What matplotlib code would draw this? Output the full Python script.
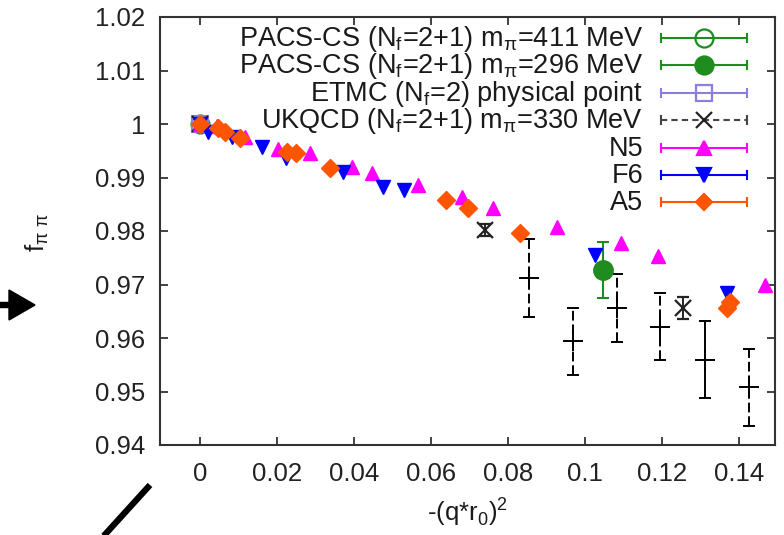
import matplotlib
matplotlib.use("Agg")
import matplotlib.pyplot as plt
from matplotlib.lines import Line2D
from matplotlib.patches import FancyArrow
from matplotlib.transforms import IdentityTransform

plt.rcParams['font.family'] = ['Liberation Sans', 'DejaVu Sans']
plt.rcParams['mathtext.fontset'] = 'custom'
plt.rcParams['mathtext.rm'] = 'Liberation Sans'

# ---- data -------------------------------------------------------------
pacs411_x = [0.0]
pacs411_y = [1.0]

pacs296_x = [0.1047]
pacs296_y = [0.9727]
pacs296_err = [0.0052]

etmc_x = [0.0]
etmc_y = [1.0]

ukqcd_x = [0.0, 0.0740, 0.1255]
ukqcd_y = [1.0, 0.9802, 0.9656]
ukqcd_err = [0.0, 0.0012, 0.0020]

cross_solid_x = [0.1312]
cross_solid_y = [0.9559]
cross_solid_err = [0.0072]

cross_dashed_x = [0.0855, 0.0969, 0.1083, 0.1195, 0.1426]
cross_dashed_y = [0.9712, 0.9594, 0.9656, 0.9621, 0.9508]
cross_dashed_err = [0.0073, 0.0063, 0.0063, 0.0063, 0.0072]

n5_x = [0.0, 0.0044, 0.0117, 0.0203, 0.0286, 0.0395, 0.0447, 0.0566,
        0.0680, 0.0762, 0.0927, 0.1093, 0.1190, 0.1468]
n5_y = [1.0, 0.9996, 0.9976, 0.9953, 0.9946, 0.9920, 0.9908, 0.9886,
        0.9864, 0.9843, 0.9808, 0.9778, 0.9753, 0.9699]

f6_x = [0.0, 0.0021, 0.0083, 0.0161, 0.0223, 0.0372, 0.0476, 0.0530,
        0.1026, 0.1369]
f6_y = [1.0, 0.9985, 0.9976, 0.9957, 0.9937, 0.9911, 0.9883, 0.9877,
        0.9755, 0.9684]

a5_x = [0.0, 0.0047, 0.0065, 0.0104, 0.0225, 0.0250, 0.0338, 0.0640,
        0.0697, 0.0831, 0.1369, 0.1377]
a5_y = [1.0, 0.9992, 0.9985, 0.9974, 0.9948, 0.9946, 0.9918, 0.9858,
        0.9843, 0.9796, 0.9656, 0.9667]
a5_err = [0.0003, 0.0004, 0.0004, 0.0005, 0.0005, 0.0005, 0.0006, 0.0008,
          0.0010, 0.0007, 0.0010, 0.0010]

x_ticks = [0, 0.02, 0.04, 0.06, 0.08, 0.1, 0.12, 0.14]
x_ticklabels = ['0', '0.02', '0.04', '0.06', '0.08', '0.1', '0.12', '0.14']
y_ticks = [0.94, 0.95, 0.96, 0.97, 0.98, 0.99, 1.0, 1.01, 1.02]
y_ticklabels = ['0.94', '0.95', '0.96', '0.97', '0.98', '0.99', '1', '1.01', '1.02']

legend_labels = [
    'PACS-CS (N$_\\mathregular{f}$=2+1) m$_\\mathregular{π}$=411 MeV',
    'PACS-CS (N$_\\mathregular{f}$=2+1) m$_\\mathregular{π}$=296 MeV',
    'ETMC (N$_\\mathregular{f}$=2) physical point',
    'UKQCD (N$_\\mathregular{f}$=2+1) m$_\\mathregular{π}$=330 MeV',
    'N5',
    'F6',
    'A5',
]

# ---- styles -------------------------------------------------------------
GREEN = '#1f8c1f'
LAV = '#8a7fe0'
MAG = '#ff00ff'
BLUE = '#0000ff'
ORANGE = '#ff5500'
FS = 18.5
FS_KEY = 19.5

W, H = 784, 535
fig = plt.figure(figsize=(W / 100, H / 100), dpi=100)
L, R, T, B = 160, 775, 17, 445
ax = fig.add_axes([L / W, (H - B) / H, (R - L) / W, (B - T) / H])

# unlabeled crosses with error bars
ax.errorbar(cross_solid_x, cross_solid_y, yerr=cross_solid_err, fmt='+',
            color='black', ms=14, mew=1.4, elinewidth=1.4, capsize=4,
            capthick=1.4, zorder=3)
eb = ax.errorbar(cross_dashed_x, cross_dashed_y, yerr=cross_dashed_err, fmt='+',
                 color='black', ms=14, mew=1.4, elinewidth=1.4, capsize=4,
                 capthick=1.4, zorder=3)
eb[2][0].set_linestyle((0, (5, 2)))

ax.plot(pacs411_x, pacs411_y, 'o', mfc='none', mec=GREEN, ms=13, mew=1.5, zorder=3)
ax.errorbar(pacs296_x, pacs296_y, yerr=pacs296_err, fmt='o', color=GREEN,
            ms=14, elinewidth=1.5, capsize=4, capthick=1.5, zorder=4)
ax.plot(etmc_x, etmc_y, 's', mfc='none', mec=LAV, ms=12, mew=1.5, zorder=3)
ax.errorbar(ukqcd_x, ukqcd_y, yerr=ukqcd_err, fmt='x', color='#222222',
            ms=11, mew=1.6, elinewidth=1.4, capsize=4, capthick=1.4, zorder=4)
ax.plot(n5_x, n5_y, '^', color=MAG, ms=10.5, zorder=5)
ax.plot(f6_x, f6_y, 'v', color=BLUE, ms=10.5, zorder=6)
ax.errorbar(a5_x, a5_y, yerr=a5_err, fmt='D', color=ORANGE, ms=9.5,
            elinewidth=1.5, capsize=3, capthick=1.5, zorder=7)

ax.set_xlim(-0.0104, 0.1494)
ax.set_ylim(0.94, 1.02)
ax.set_xticks(x_ticks)
ax.set_xticklabels(x_ticklabels)
ax.set_yticks(y_ticks)
ax.set_yticklabels(y_ticklabels)
ax.tick_params(direction='in', length=6, width=1.2, top=True, right=True,
               labelsize=FS, colors='#222222')
ax.tick_params(axis='x', pad=12)
ax.tick_params(axis='y', pad=10.5)
for s in ax.spines.values():
    s.set_linewidth(1.5)
    s.set_color('#333333')

# ---- key ---------------------------------------------------------------
key_styles = [
    dict(marker='o', mfc='none', mec=GREEN, color=GREEN, ms=13, ls='-'),
    dict(marker='o', mfc=GREEN, mec=GREEN, color=GREEN, ms=13, ls='-'),
    dict(marker='s', mfc='none', mec=LAV, color=LAV, ms=12, ls='-'),
    dict(marker='x', mfc='#222222', mec='#222222', color='#444444', ms=11, ls=(0, (3, 2))),
    dict(marker='^', mfc=MAG, mec=MAG, color=MAG, ms=10, ls='-'),
    dict(marker='v', mfc=BLUE, mec=BLUE, color=BLUE, ms=10, ls='-'),
    dict(marker='D', mfc=ORANGE, mec=ORANGE, color=ORANGE, ms=8.5, ls='-'),
]
row0, dy = 38, 27.4
def ax_x(px):
    return (px - L) / (R - L)
def ax_y(py):
    return (B - py) / (B - T)
for i, (lab, st) in enumerate(zip(legend_labels, key_styles)):
    yc = row0 + i * dy
    ax.text(ax_x(643), ax_y(yc + 8), lab, transform=ax.transAxes, ha='right',
            va='baseline', fontsize=FS_KEY, color='#1a1a1a', zorder=10)
    col = st['color']
    ax.add_line(Line2D([ax_x(661), ax_x(747)], [ax_y(yc)] * 2, color=col,
                       lw=1.5, ls=st['ls'], transform=ax.transAxes, clip_on=False))
    for xc in (661, 747):
        ax.add_line(Line2D([ax_x(xc)] * 2, [ax_y(yc - 4), ax_y(yc + 4)], color=col,
                           lw=1.5, transform=ax.transAxes, clip_on=False))
    ax.add_line(Line2D([ax_x(704)], [ax_y(yc)], marker=st['marker'], ms=st['ms'],
                       mfc=st['mfc'], mec=st['mec'], mew=1.6, ls='none',
                       transform=ax.transAxes, clip_on=False))

# ---- axis titles -------------------------------------------------------
fig.text(37 / W, (H - 232) / H, 'f$_\\mathregular{π\\ π}$', rotation=90,
         ha='center', va='center', fontsize=FS, color='#1a1a1a')
fig.text(468 / W, (H - 512) / H, '-(q*r$_\\mathregular{0}$)$^\\mathregular{2}$',
         ha='center', va='center', fontsize=FS, color='#1a1a1a')

# ---- pointers around the frame ----------------------------------------
fig.add_artist(FancyArrow(-12, H - 305, 47, 0, width=5, head_width=30,
                          head_length=26, length_includes_head=True,
                          color='black', transform=IdentityTransform()))
fig.add_artist(Line2D([150, 100], [H - 485, H - 540], color='black', lw=4.5,
                      solid_capstyle='butt', transform=IdentityTransform()))

fig.savefig('out.png', dpi=100)
